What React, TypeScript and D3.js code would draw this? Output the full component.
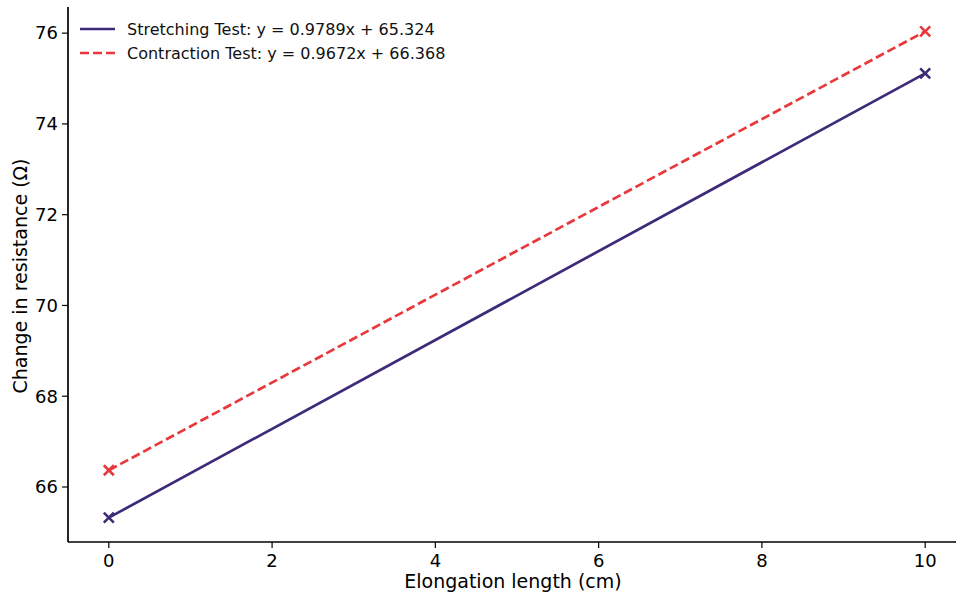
import React from "react";
import * as d3 from "d3";

// elongation (cm) and measured resistance change (ohm)
const elongation = [0, 10];
const stretching = [65.324, 75.113];
const contraction = [66.368, 76.04];
const xTicks = [0, 2, 4, 6, 8, 10];
const yTicks = [66, 68, 70, 72, 74, 76];
const legendLabels = [
  "Stretching Test: y = 0.9789x + 65.324",
  "Contraction Test: y = 0.9672x + 66.368",
];

const W = 956;
const H = 594;
const margin = { left: 68, top: 7, right: -10, bottom: 52 };
const purple = "#3d2b7a";
const red = "#e8383c";
const font = "DejaVu Sans, sans-serif";

export default function App() {
  const x = d3
    .scaleLinear()
    .domain([-0.5, 10.5])
    .range([margin.left, W - margin.right]);
  const y = d3
    .scaleLinear()
    .domain([64.788, 76.576])
    .range([H - margin.bottom, margin.top]);

  const line = d3
    .line<number>()
    .x((_, i) => x(elongation[i]))
    .y((d) => y(d));

  const series = [
    { values: stretching, color: purple, dash: undefined as string | undefined },
    { values: contraction, color: red, dash: "9,4" },
  ];

  const cross = (cx: number, cy: number, color: string, key: string) => (
    <path
      key={key}
      d={`M${cx - 5},${cy - 5}L${cx + 5},${cy + 5}M${cx - 5},${cy + 5}L${cx + 5},${cy - 5}`}
      stroke={color}
      strokeWidth={2.6}
      fill="none"
    />
  );

  const bottom = H - margin.bottom;

  return (
    <svg
      width={W}
      height={H}
      style={{ position: "absolute", left: 0, top: 0, background: "#fff" }}
      fontFamily={font}
    >
      {series.map((s, si) => (
        <g key={si}>
          <path
            d={line(s.values) || ""}
            fill="none"
            stroke={s.color}
            strokeWidth={2.7}
            strokeDasharray={s.dash}
          />
          {s.values.map((v, i) => cross(x(elongation[i]), y(v), s.color, `${si}-${i}`))}
        </g>
      ))}

      {/* axes */}
      <line x1={margin.left} x2={W - margin.right} y1={bottom} y2={bottom} stroke="#000" strokeWidth={1.7} />
      <line x1={margin.left} x2={margin.left} y1={margin.top} y2={bottom} stroke="#000" strokeWidth={1.7} />

      {xTicks.map((t) => (
        <g key={t} transform={`translate(${x(t)},${bottom})`}>
          <line y1={0} y2={6} stroke="#000" strokeWidth={1.2} />
          <text y={25} textAnchor="middle" fontSize={18} fill="#000">
            {t}
          </text>
        </g>
      ))}
      {yTicks.map((t) => (
        <g key={t} transform={`translate(${margin.left},${y(t)})`}>
          <line x1={0} x2={-6} stroke="#000" strokeWidth={1.2} />
          <text x={-10} dy="0.35em" textAnchor="end" fontSize={18} fill="#000">
            {t}
          </text>
        </g>
      ))}

      <text x={513} y={588} textAnchor="middle" fontSize={19} fill="#000">
        Elongation length (cm)
      </text>
      <text
        transform={`translate(27,276) rotate(-90)`}
        textAnchor="middle"
        fontSize={19}
        fill="#000"
      >
        Change in resistance (Ω)
      </text>

      {/* legend */}
      {legendLabels.map((lab, i) => (
        <g key={lab} transform={`translate(80,${29 + i * 24})`}>
          <line
            x1={0}
            x2={35}
            stroke={series[i].color}
            strokeWidth={2.7}
            strokeDasharray={series[i].dash}
          />
          <text x={47} dy="0.35em" fontSize={16} fill="#111">
            {lab}
          </text>
        </g>
      ))}
    </svg>
  );
}
